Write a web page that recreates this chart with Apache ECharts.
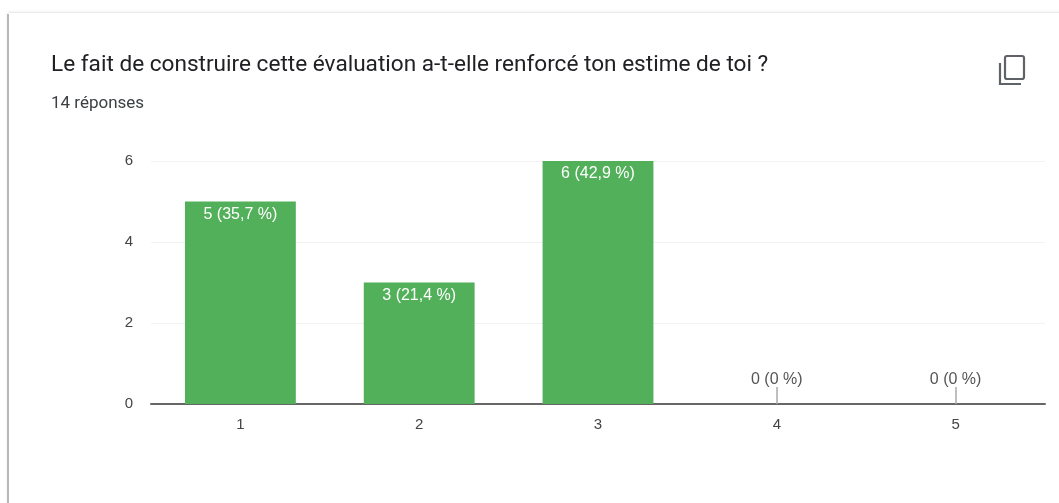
<!DOCTYPE html>
<html>
<head>
<meta charset="utf-8">
<title>Estime de soi</title>
<script src="https://cdn.jsdelivr.net/npm/echarts@6/dist/echarts.min.js"></script>
<style>
html, body { margin: 0; padding: 0; background: #fff; }
#chart { width: 1059px; height: 503px; }
</style>
</head>
<body>
<div id="chart"></div>
<script>
const categories = ['1', '2', '3', '4', '5'];
const values = [5, 3, 6, 0, 0];
const percents = ['35,7', '21,4', '42,9', '0', '0'];
const yTicks = [0, 2, 4, 6];

const chart = echarts.init(document.getElementById('chart'));

chart.setOption({
    animation: false,
    textStyle: { fontFamily: 'Liberation Sans' },
    title: [{
        text: 'Le fait de construire cette évaluation a-t-elle renforcé ton estime de toi ?',
        left: 46,
        top: 49,
        textStyle: { fontSize: 22.6, fontWeight: 'normal', color: '#202124', fontFamily: 'Roboto' }
    }, {
        text: '14 réponses',
        left: 46,
        top: 90,
        textStyle: { fontSize: 17, fontWeight: 'normal', color: '#3c4043', fontFamily: 'Roboto' }
    }],
    grid: {
        left: 151,
        right: 14,
        top: 161,
        bottom: 99,
        show: true,
        borderColor: '#f2f2f2',
        borderWidth: 1
    },
    xAxis: {
        type: 'category',
        data: categories,
        axisLine: { lineStyle: { color: '#666', width: 2 } },
        axisTick: {
            show: true,
            inside: true,
            length: 17,
            alignWithLabel: true,
            interval: (i) => values[i] === 0,
            lineStyle: { color: '#aaa', width: 1.5 }
        },
        axisLabel: { color: '#444', fontSize: 15, margin: 13 }
    },
    yAxis: {
        type: 'value',
        min: yTicks[0],
        max: yTicks[yTicks.length - 1],
        interval: yTicks[1] - yTicks[0],
        axisLine: { show: false },
        axisTick: { show: false },
        splitLine: { lineStyle: { color: '#f2f2f2', width: 1 } },
        axisLabel: { color: '#444', fontSize: 15, margin: 18 }
    },
    series: [{
        type: 'bar',
        barWidth: '62%',
        itemStyle: { color: '#52b05a' },
        data: values.map((v) => ({
            value: v,
            label: v > 0
                ? { show: true, position: 'insideTop', distance: 5, color: '#fff' }
                : { show: true, position: 'top', distance: 16, color: '#555' }
        })),
        label: {
            fontSize: 16,
            fontFamily: 'Liberation Sans',
            formatter: (p) => p.value + ' (' + percents[p.dataIndex] + ' %)'
        }
    }],
    graphic: [
        // bord de la carte
        { type: 'rect', silent: true, z: 0, shape: { x: 8, y: 13, width: 1060, height: 500 },
          style: { fill: '#fff', shadowBlur: 3, shadowColor: 'rgba(0,0,0,0.2)' } },
        { type: 'rect', silent: true, z: 0, shape: { x: 7, y: 14, width: 2, height: 489 },
          style: { fill: '#b8b8b8' } },
        // icone copier
        { type: 'rect', silent: true, z: 5, shape: { x: 1005, y: 56, width: 19, height: 23, r: 2 },
          style: { fill: 'none', stroke: '#5f6368', lineWidth: 2.2 } },
        { type: 'polyline', silent: true, z: 5, shape: { points: [[1000, 63], [1000, 84], [1021, 84]] },
          style: { fill: 'none', stroke: '#5f6368', lineWidth: 2.2 } }
    ]
});
</script>
</body>
</html>
